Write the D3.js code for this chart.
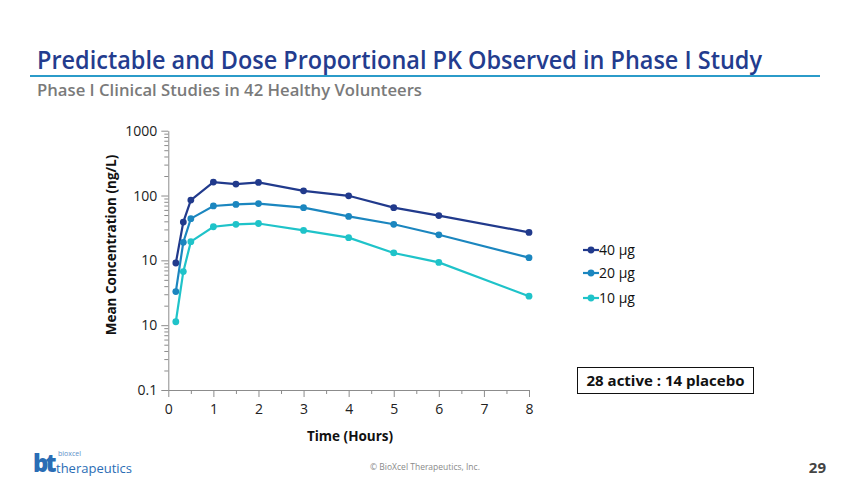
<!DOCTYPE html>
<html><head><meta charset="utf-8">
<script src="https://cdn.jsdelivr.net/npm/d3@7"></script>
<style>body{margin:0;background:#fff;} svg{display:block;font-family:"Open Sans","Noto Sans",sans-serif;}</style>
</head><body>
<svg id="c" width="850" height="478"></svg>
<script>
const times = [0.167, 0.333, 0.5, 1, 1.5, 2, 3, 4, 5, 6, 8];
const dose40 = [9.1, 39, 85, 161, 150, 159, 118, 99, 65, 49, 27];
const dose20 = [3.3, 19, 44, 69, 73, 75, 65, 47.6, 36, 24.8, 11];
const dose10 = [1.13, 6.7, 19.4, 33, 36, 37, 29, 22.4, 13, 9.3, 2.8];
const seriesNames = ["40 µg", "20 µg", "10 µg"];
const seriesColors = ["#213a8c", "#1b86bf", "#1fc3c9"];
const yTickValues = [0.1, 1, 10, 100, 1000];
const yTickLabels = ["0.1", "10", "10", "100", "1000"];
const xTickValues = [0, 1, 2, 3, 4, 5, 6, 7, 8];

const svg = d3.select("#c");
// Header
svg.append("text").attr("x", 37).attr("y", 69).attr("fill", "#233c8e")
  .attr("font-size", 25).attr("font-weight", 600).attr("textLength", 725).attr("lengthAdjust", "spacingAndGlyphs")
  .text("Predictable and Dose Proportional PK Observed in Phase I Study");
svg.append("line").attr("x1", 30).attr("x2", 820).attr("y1", 76).attr("y2", 76)
  .attr("stroke", "#2b9bc9").attr("stroke-width", 2);
svg.append("text").attr("x", 37).attr("y", 96).attr("fill", "#7a7a7a")
  .attr("font-size", 16.5).attr("font-weight", 600).attr("textLength", 385).attr("lengthAdjust", "spacingAndGlyphs")
  .text("Phase I Clinical Studies in 42 Healthy Volunteers");

const x = d3.scaleLinear().domain([0, 8]).range([168.3, 529]);
const y = d3.scaleLog().domain([0.1, 1000]).range([390, 130.7]);

// Y axis
const yMinor = [];
for (let e = -1; e < 3; e++) for (let m = 2; m <= 9; m++) yMinor.push(m * Math.pow(10, e));
const gy = svg.append("g").attr("transform", `translate(${x(0)},0)`);
gy.call(d3.axisLeft(y).tickValues(yMinor).tickSize(4).tickFormat(""));
gy.call(g => g.select(".domain").remove());
const gy2 = svg.append("g").attr("transform", `translate(${x(0)},0)`)
  .call(d3.axisLeft(y).tickValues(yTickValues).tickSize(7).tickSizeOuter(0)
    .tickFormat((d, i) => yTickLabels[i]));
[gy, gy2].forEach(g => { g.selectAll("line").attr("stroke", "#8c8c8c"); });
gy2.select(".domain").attr("stroke", "#8c8c8c");
gy2.selectAll("text").attr("font-size", 14).attr("fill", "#222").attr("font-family", "'Open Sans',sans-serif").attr("dx", -1);

// X axis
const xMinor = d3.range(0.5, 8, 1);
const gx = svg.append("g").attr("transform", `translate(0,${y(0.1)})`);
gx.call(d3.axisBottom(x).tickValues(xMinor).tickSize(4).tickFormat(""));
gx.call(g => g.select(".domain").remove());
const gx2 = svg.append("g").attr("transform", `translate(0,${y(0.1)})`)
  .call(d3.axisBottom(x).tickValues(xTickValues).tickSize(7).tickSizeOuter(0).tickFormat(d3.format("d")));
[gx, gx2].forEach(g => g.selectAll("line").attr("stroke", "#8c8c8c"));
gx2.select(".domain").attr("stroke", "#8c8c8c");
gx2.selectAll("text").attr("font-size", 14).attr("fill", "#222").attr("font-family", "'Open Sans',sans-serif").attr("dy", "1.0em");

// Axis titles
svg.append("text").attr("x", 350).attr("y", 441).attr("text-anchor", "middle")
  .attr("font-size", 13.5).attr("font-weight", 700).attr("fill", "#111").text("Time (Hours)");
svg.append("text").attr("transform", "translate(116,245) rotate(-90)").attr("text-anchor", "middle")
  .attr("font-size", 13.5).attr("font-weight", 700).attr("fill", "#111").text("Mean Concentration (ng/L)");

// Series
const series = [dose40, dose20, dose10];
const line = d3.line().x((d, i) => x(times[i])).y(d => y(d));
series.forEach((vals, si) => {
  svg.append("path").datum(vals).attr("d", line).attr("fill", "none")
    .attr("stroke", seriesColors[si]).attr("stroke-width", 2.2);
  svg.append("g").selectAll("circle").data(vals).join("circle")
    .attr("cx", (d, i) => x(times[i])).attr("cy", d => y(d)).attr("r", 3.4)
    .attr("fill", seriesColors[si]);
});

// Legend
const legY = [250, 273, 298];
seriesNames.forEach((n, i) => {
  const g = svg.append("g").attr("transform", `translate(583,${legY[i]})`);
  g.append("line").attr("x1", 0).attr("x2", 16).attr("stroke", seriesColors[i]).attr("stroke-width", 2.2);
  g.append("circle").attr("cx", 8).attr("r", 3.4).attr("fill", seriesColors[i]);
  g.append("text").attr("x", 16).attr("y", 5).attr("font-size", 14).attr("fill", "#111").text(n);
});

// Box annotation
svg.append("rect").attr("x", 577.5).attr("y", 367.5).attr("width", 176).attr("height", 26)
  .attr("fill", "#fff").attr("stroke", "#111").attr("stroke-width", 1);
svg.append("text").attr("x", 665.5).attr("y", 386).attr("text-anchor", "middle")
  .attr("font-size", 15).attr("font-weight", 700).attr("fill", "#111").text("28 active : 14 placebo");

// Footer
svg.append("text").attr("x", 425).attr("y", 470).attr("text-anchor", "middle")
  .attr("font-size", 8.5).attr("fill", "#8a8a8a").text("© BioXcel Therapeutics, Inc.");
svg.append("text").attr("x", 826).attr("y", 473).attr("text-anchor", "end")
  .attr("font-size", 15).attr("font-weight", 700).attr("fill", "#444").text("29");
// Logo
const lg = svg.append("g");
lg.append("text").attr("x", 33).attr("y", 472).attr("font-size", 24).attr("font-weight", 800)
  .attr("fill", "#2a6db5").attr("letter-spacing", -3).text("bt");
lg.append("text").attr("x", 58).attr("y", 456).attr("font-size", 7).attr("fill", "#5a8fc8").text("bioxcel");
lg.append("text").attr("x", 56).attr("y", 473).attr("font-size", 13).attr("fill", "#2a6db5").text("therapeutics");
</script>
</body></html>
